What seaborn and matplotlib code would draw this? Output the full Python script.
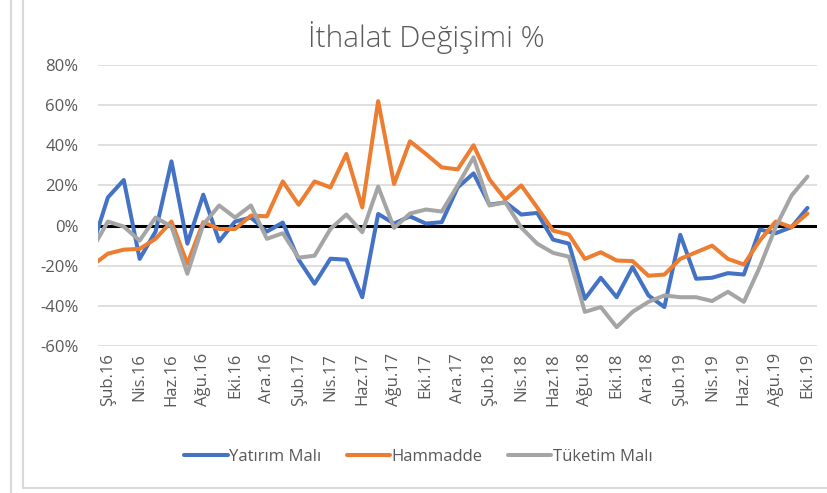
import matplotlib.pyplot as plt
import pandas as pd
import seaborn as sns
from matplotlib.lines import Line2D
from matplotlib.ticker import FuncFormatter

# aylar Oca.16 - Eki.19
months = ["Oca", "Şub", "Mar", "Nis", "May", "Haz", "Tem", "Ağu", "Eyl", "Eki", "Kas", "Ara"]
periods = [f"{m}.{y}" for y in (16, 17, 18, 19) for m in months][:46]

yatirim = [-11, 14, 22.7, -16.6, -3, 32, -9, 15.4, -7.8, 2, 4, -3,
           1.5, -17, -29, -16.5, -17, -35.7, 5.8, 1, 4.6, 1, 1.7, 19,
           26, 10.4, 11.6, 5.5, 6.3, -7, -9, -36.5, -26, -35.7, -20.7, -34.8,
           -40.6, -4.6, -26.5, -26, -23.7, -24.4, -2, -3.8, -0.8, 8.8]
hammadde = [-20, -14, -12, -11.6, -6.6, 2, -19, 1.7, -1.7, -1.7, 5, 4.6,
            22, 10.4, 22, 19, 35.7, 9, 62, 20.7, 42, 35.7, 29, 28,
            40, 23, 13, 20, 9, -2.5, -4.5, -16.6, -13.3, -17.4, -17.7, -25,
            -24.4, -16.6, -13.3, -10, -16.6, -19.4, -7.5, 2, -0.8, 6]
tuketim = [-12, 2, -0.5, -7.5, 4, -0.5, -24, 0.5, 10, 4, 10, -6.6,
           -3.8, -16, -15, -1.7, 5.5, -3.3, 19.4, -1.2, 6, 8, 7, 20,
           34, 10, 11.6, -1, -9, -13.6, -15.5, -43, -40.6, -50.6, -43, -38,
           -34.8, -35.7, -35.7, -37.6, -33, -38, -20.7, -0.8, 15, 24.4]

series_names = ["Yatırım Malı", "Hammadde", "Tüketim Malı"]
colors = ["#4472C4", "#ED7D31", "#A5A5A5"]

df = pd.DataFrame({"idx": range(len(periods)),
                   "Yatırım Malı": yatirim,
                   "Hammadde": hammadde,
                   "Tüketim Malı": tuketim})
long_df = df.melt(id_vars="idx", var_name="seri", value_name="deger")

sns.set_style("white")
plt.rcParams["font.family"] = ["Open Sans", "DejaVu Sans"]

fig = plt.figure(figsize=(8.27, 4.93), dpi=100)
ax = fig.add_axes([98 / 827, 1 - 346 / 493, 719 / 827, 281 / 493])

ax.axhline(0, color="black", lw=2.2, zorder=2)
sns.lineplot(data=long_df, x="idx", y="deger", hue="seri", hue_order=series_names,
             palette=colors, linewidth=2.9, ax=ax, legend=False, zorder=3)

ax.set_xlim(0.38, 45.6)
ax.set_ylim(-60, 80)
ax.set_yticks(range(-60, 81, 20))
ax.yaxis.set_major_formatter(FuncFormatter(lambda v, _: f"{v:.0f}%"))
ax.yaxis.grid(True, color="#D9D9D9", lw=1.2)
ax.set_axisbelow(True)

tick_pos = list(range(1, len(periods), 2))
ax.set_xticks(tick_pos)
ax.set_xticklabels([periods[i] for i in tick_pos], rotation=90)
ax.tick_params(axis="x", length=0, pad=5, labelsize=12, labelcolor="#595959")
ax.tick_params(axis="y", length=0, pad=14, labelsize=12, labelcolor="#595959")
ax.set_xlabel("")
ax.set_ylabel("")
for s in ax.spines.values():
    s.set_visible(False)

fig.text(0.516, 1 - 37 / 493, "İthalat Değişimi %", ha="center", va="center",
         fontsize=21.5, fontweight="light", color="#595959")

handles = [Line2D([], [], color=c, lw=2.9) for c in colors]
fig.legend(handles, series_names, loc="center", bbox_to_anchor=(0.506, 1 - 457 / 493),
           ncol=3, frameon=False, fontsize=12, handlelength=2.6, handletextpad=0.1,
           columnspacing=1.5, labelcolor="#595959")

# chart çerçevesi
fig.add_artist(Line2D([23 / 827, 23 / 827, 1], [1, 1 - 488 / 493, 1 - 488 / 493],
                      transform=fig.transFigure, color="#D9D9D9", lw=1.5))
fig.add_artist(Line2D([11 / 827, 11 / 827], [1, 0], transform=fig.transFigure,
                      color="#D9D9D9", lw=1.5))

fig.savefig("out.png", dpi=100)
